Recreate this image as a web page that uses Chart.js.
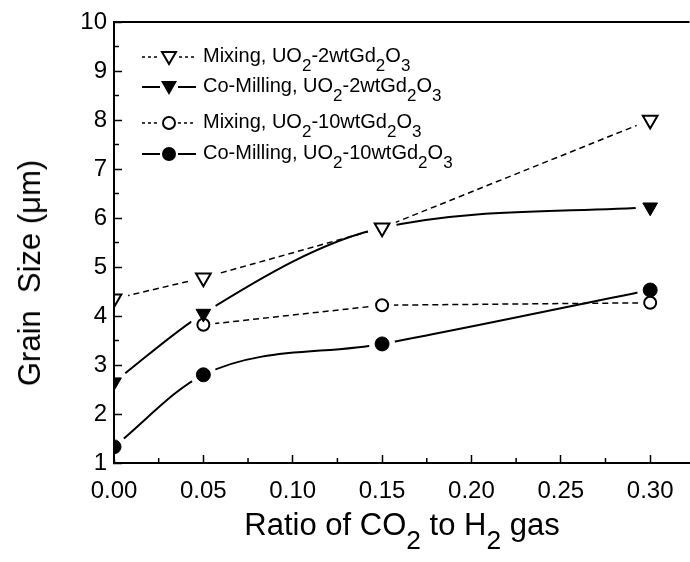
<!DOCTYPE html>
<html>
<head>
<meta charset="utf-8">
<script src="https://cdn.jsdelivr.net/npm/chart.js@4/dist/chart.umd.min.js"></script>
<style>
  html, body { margin: 0; padding: 0; background: #fff; }
  #wrap { position: relative; width: 690px; height: 562px; overflow: hidden; font-family: "Liberation Sans", Arial, sans-serif; color: #000; }
  #chart { position: absolute; left: 0; top: 0; }
  .row { position: absolute; left: 142px; height: 22px; line-height: 22px; font-size: 20px; white-space: nowrap; }
  .row svg { vertical-align: middle; margin-right: 7px; }
  sub { font-size: 0.85em; vertical-align: -0.5em; line-height: 0; }
  .xtitle { position: absolute; left: 114px; width: 576px; top: 508px; text-align: center; font-size: 31px; line-height: 34px; }
  .xtitle sub { vertical-align: -0.55em; }
  .ytitle { position: absolute; left: 30px; top: 273px; font-size: 31px; white-space: nowrap; transform: translate(-50%, -50%) rotate(-90deg); }
</style>
</head>
<body>
<div id="wrap">
  <!-- canvas is a bit wider than the page: the original plot is cut off at the right -->
  <canvas id="chart" width="704" height="562"></canvas>

  <div class="row" style="top:44px">
    <svg width="54" height="22"><path d="M0 11H17M37 11H54" stroke="#000" stroke-width="1.5" stroke-dasharray="3 3"/><path d="M20 6H34L27 18Z" fill="#fff" stroke="#000" stroke-width="2"/></svg>Mixing, UO<sub>2</sub>-2wtGd<sub>2</sub>O<sub>3</sub>
  </div>
  <div class="row" style="top:74px">
    <svg width="54" height="22"><path d="M0 11H18M36 11H54" stroke="#000" stroke-width="2"/><path d="M19 5H35L27 19Z" fill="#000"/></svg>Co-Milling, UO<sub>2</sub>-2wtGd<sub>2</sub>O<sub>3</sub>
  </div>
  <div class="row" style="top:110px">
    <svg width="54" height="22"><path d="M0 11H18M36 11H54" stroke="#000" stroke-width="1.5" stroke-dasharray="3 3"/><circle cx="27" cy="11" r="6" fill="#fff" stroke="#000" stroke-width="2"/></svg>Mixing, UO<sub>2</sub>-10wtGd<sub>2</sub>O<sub>3</sub>
  </div>
  <div class="row" style="top:141px">
    <svg width="54" height="22"><path d="M0 11H18M36 11H54" stroke="#000" stroke-width="2"/><circle cx="27" cy="11" r="7" fill="#000"/></svg>Co-Milling, UO<sub>2</sub>-10wtGd<sub>2</sub>O<sub>3</sub>
  </div>

  <div class="ytitle">Grain&nbsp;&nbsp;Size (&mu;m)</div>
  <div class="xtitle">Ratio of CO<sub>2</sub> to H<sub>2</sub> gas</div>
</div>

<script>
// CO2/H2 ratio (x) and grain size in um (y)
const ratios = [0, 0.05, 0.15, 0.30];
const mixing2 = [4.35, 4.78, 5.8, 8.0];
const milling2 = [2.65, 4.05, 5.8, 6.22];
const mixing10 = [null, 3.82, 4.22, 4.27];
const milling10 = [1.33, 2.8, 3.43, 4.53];

const seriesNames = [
  "Mixing, UO2-2wtGd2O3",
  "Co-Milling, UO2-2wtGd2O3",
  "Mixing, UO2-10wtGd2O3",
  "Co-Milling, UO2-10wtGd2O3"
];

const xMin = 0, xMax = 0.322, xStep = 0.05;
const yMin = 1, yMax = 10, yStep = 1;

const toPoints = ys => ratios.map((x, i) => ({ x: x, y: ys[i] })).filter(p => p.y !== null);

// each series = line, white halo (gap round the marker), marker
function series(name, ys, st) {
  const pts = toPoints(ys);
  return [
    {
      label: name,
      data: pts,
      order: 3,
      borderColor: "#000",
      borderWidth: st.dashed ? 1.5 : 2,
      borderDash: st.dashed ? [6, 4] : [],
      tension: st.dashed ? 0 : undefined,
      cubicInterpolationMode: st.dashed ? "default" : "monotone",
      pointRadius: 0
    },
    {
      label: name + " gap",
      data: pts,
      order: 2,
      showLine: false,
      pointStyle: "circle",
      pointRadius: st.radius + 6,
      pointBackgroundColor: "#fff",
      pointBorderWidth: 0
    },
    {
      label: name + " marker",
      data: pts,
      order: 1,
      showLine: false,
      pointStyle: st.shape,
      pointRotation: st.shape === "triangle" ? 180 : 0,
      pointRadius: st.radius,
      pointBackgroundColor: st.filled ? "#000" : "#fff",
      pointBorderColor: "#000",
      pointBorderWidth: st.filled ? 1 : 2
    }
  ];
}

// keep every dataset inside the axes (markers at x=0 are cut by the y axis)
const plotClip = {
  id: "plotClip",
  beforeDatasetDraw(chart) {
    const ctx = chart.ctx, a = chart.chartArea;
    ctx.save();
    ctx.beginPath();
    ctx.rect(a.left + 1, a.top + 1, a.right - a.left, a.bottom - a.top - 2);
    ctx.clip();
  },
  afterDatasetDraw(chart) {
    chart.ctx.restore();
  }
};

// minor ticks + top frame line
const frame = {
  id: "frame",
  beforeDatasetsDraw(chart) {
    const ctx = chart.ctx, a = chart.chartArea;
    const xs = chart.scales.x, ys = chart.scales.y;
    ctx.save();
    ctx.strokeStyle = "#000";
    ctx.lineWidth = 1.5;
    ctx.beginPath();
    for (let i = 0; i < ys.ticks.length - 1; i++) {
      const py = ys.getPixelForValue((ys.ticks[i].value + ys.ticks[i + 1].value) / 2);
      ctx.moveTo(a.left, py);
      ctx.lineTo(a.left + 5, py);
    }
    for (let i = 0; i < xs.ticks.length - 1; i++) {
      const px = xs.getPixelForValue((xs.ticks[i].value + xs.ticks[i + 1].value) / 2);
      ctx.moveTo(px, a.bottom);
      ctx.lineTo(px, a.bottom - 5);
    }
    ctx.stroke();
    ctx.lineWidth = 2;
    ctx.beginPath();
    ctx.moveTo(a.left - 1, a.top);
    ctx.lineTo(a.right, a.top);
    ctx.stroke();
    ctx.restore();
  }
};

const tickFont = { family: "'Liberation Sans', Arial, sans-serif", size: 24 };

new Chart(document.getElementById("chart"), {
  type: "line",
  data: {
    datasets: [
      ...series(seriesNames[0], mixing2, { dashed: true, shape: "triangle", radius: 8.5, filled: false }),
      ...series(seriesNames[1], milling2, { dashed: false, shape: "triangle", radius: 8.5, filled: true }),
      ...series(seriesNames[2], mixing10, { dashed: true, shape: "circle", radius: 6, filled: false }),
      ...series(seriesNames[3], milling10, { dashed: false, shape: "circle", radius: 7, filled: true })
    ]
  },
  options: {
    responsive: false,
    animation: false,
    events: [],
    layout: { padding: { top: 22, right: 0, left: 0, bottom: 0 } },
    plugins: { legend: { display: false }, tooltip: { enabled: false } },
    scales: {
      x: {
        type: "linear",
        min: xMin,
        max: xMax,
        afterFit: s => { s.height = 99; s.paddingLeft = 0; s.paddingRight = 0; },
        ticks: {
          stepSize: xStep,
          includeBounds: false,
          color: "#000",
          font: tickFont,
          padding: 22,
          maxRotation: 0,
          callback: v => v.toFixed(2)
        },
        grid: { drawOnChartArea: false, tickLength: -8, tickColor: "#000", tickWidth: 1.5 },
        border: { color: "#000", width: 2 }
      },
      y: {
        type: "linear",
        min: yMin,
        max: yMax,
        afterFit: s => { s.width = 114; s.paddingTop = 0; s.paddingBottom = 0; },
        ticks: { stepSize: yStep, color: "#000", font: tickFont, padding: 15 },
        grid: { drawOnChartArea: false, tickLength: -8, tickColor: "#000", tickWidth: 1.5 },
        border: { color: "#000", width: 2 }
      }
    }
  },
  plugins: [frame, plotClip]
});
</script>
</body>
</html>
